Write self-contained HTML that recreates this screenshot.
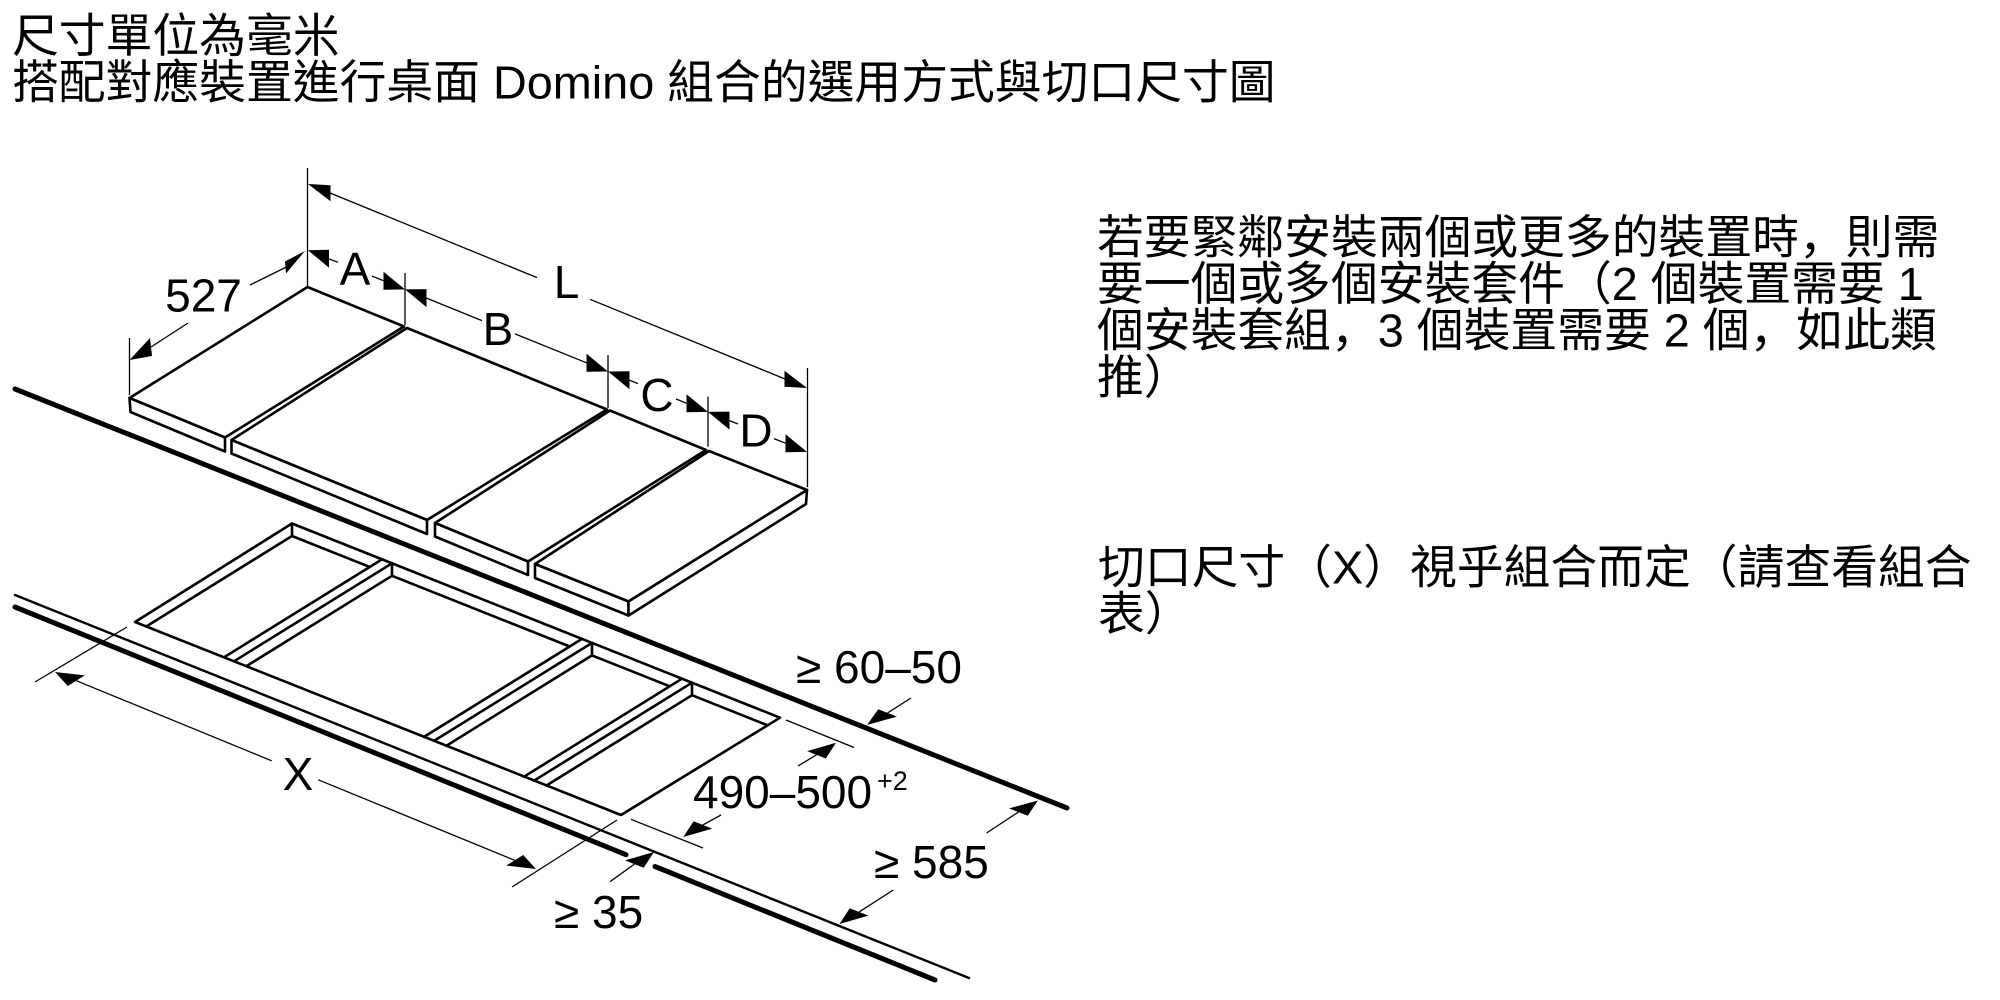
<!DOCTYPE html>
<html>
<head>
<meta charset="utf-8">
<style>
html,body{margin:0;padding:0;background:#fff;width:2000px;height:1000px;overflow:hidden}
svg{display:block}
.t{font-family:"Liberation Sans","Noto Sans CJK TC",sans-serif;font-size:46.8px;fill:#000}
.c{font-family:"Noto Sans CJK JP",sans-serif}
.d{font-family:"Liberation Sans",sans-serif;font-size:46px;fill:#000}
.s{font-family:"Liberation Sans",sans-serif;font-size:27px;fill:#000}
</style>
</head>
<body>
<svg width="2000" height="1000" viewBox="0 0 2000 1000" xmlns="http://www.w3.org/2000/svg">
<rect x="0" y="0" width="2000" height="1000" fill="#fff"/>

<!-- Title -->
<text class="t" x="12" y="52">尺寸單位為毫米</text>
<text class="t" x="12" y="98.5">搭配對應裝置進行桌面 Domino 組合的選用方式與切口尺寸圖</text>

<!-- Right paragraphs -->
<text class="t" x="1097" y="253.5">若要緊鄰安裝兩個或更多的裝置時<tspan class="c">，</tspan>則需</text>
<text class="t" x="1097" y="300">要一個或多個安裝套件（2 個裝置需要 1</text>
<text class="t" x="1097" y="346.7">個安裝套組<tspan class="c">，</tspan>3 個裝置需要 2 個<tspan class="c">，</tspan>如此類</text>
<text class="t" x="1097" y="393.4">推）</text>

<text class="t" x="1098" y="583.5">切口尺寸（X）視乎組合而定（請查看組合</text>
<text class="t" x="1098" y="630">表）</text>

<!-- Counter lines -->
<g stroke="#000" stroke-linecap="round" fill="none">
  <line x1="15" y1="389" x2="1067" y2="808" stroke-width="5"/>
  <line x1="15" y1="595" x2="969" y2="978" stroke-width="2.4"/>
  <line x1="15" y1="607" x2="626" y2="854.7" stroke-width="5"/>
  <line x1="655" y1="866.5" x2="935" y2="980" stroke-width="5"/>
</g>

<!-- Cooktops -->
<g stroke="#000" stroke-width="2.6" fill="#fff" stroke-linejoin="round">
  <polygon points="307.5,287 404,326.5 225,437.5 129.5,398"/>
  <polygon points="129.5,398 225,437.5 225,451.5 130.5,412"/>
  <polygon points="407,328 607,409.5 427,520 231.5,440"/>
  <polygon points="231.5,440 427,520 427,534 231.5,453.5"/>
  <polygon points="610,410.5 706,450 528,561.5 435,523"/>
  <polygon points="435,523 528,561.5 528,575 435,536.5"/>
  <polygon points="709,451 807,490 628.5,601.5 535,564"/>
  <polygon points="535,564 628.5,601.5 628.5,615.5 535,578"/>
  <polygon points="807,490 806,504 628.5,615.5 628.5,601.5"/>
</g>

<!-- Cutout frame -->
<g stroke="#000" stroke-width="2.6" fill="none" stroke-linejoin="round" stroke-linecap="round">
  <polygon points="292,523.5 780,717.7 621,815 135,622"/>
  <line x1="292" y1="523.5" x2="292" y2="536"/>
  <line x1="292" y1="536" x2="146.2" y2="626.5"/>
  <line x1="292" y1="536" x2="369.7" y2="566.9"/>
  <!-- bar 1 -->
  <line x1="382" y1="559.3" x2="224" y2="657.3"/>
  <line x1="392" y1="563.3" x2="234" y2="661.3"/>
  <line x1="392" y1="563.3" x2="392" y2="575.8"/>
  <line x1="392" y1="575.8" x2="246.3" y2="666.2"/>
  <line x1="392" y1="575.8" x2="569.7" y2="646.5"/>
  <!-- bar 2 -->
  <line x1="582" y1="638.9" x2="424" y2="736.9"/>
  <line x1="592" y1="642.9" x2="434" y2="740.9"/>
  <line x1="592" y1="642.9" x2="592" y2="655.4"/>
  <line x1="592" y1="655.4" x2="446.3" y2="745.8"/>
  <line x1="592" y1="655.4" x2="669.7" y2="686.3"/>
  <!-- bar 3 -->
  <line x1="682" y1="678.7" x2="524" y2="776.7"/>
  <line x1="692" y1="682.7" x2="534" y2="780.7"/>
  <line x1="692" y1="682.7" x2="692" y2="695.2"/>
  <line x1="692" y1="695.2" x2="546.3" y2="785.6"/>
  <line x1="692" y1="695.2" x2="767.6" y2="725.3"/>
</g>

<!-- Dimension lines (thin) -->
<g stroke="#000" stroke-width="1.3" fill="none">
  <line x1="307.5" y1="168" x2="307.5" y2="286"/>
  <line x1="807.5" y1="368" x2="807.5" y2="487"/>
  <line x1="129.5" y1="338" x2="129.5" y2="395"/>
  <line x1="405" y1="273" x2="405" y2="325"/>
  <line x1="608" y1="355" x2="608" y2="408"/>
  <line x1="708" y1="396.7" x2="708" y2="446.7"/>
  <line x1="330" y1="193" x2="537" y2="277.6"/>
  <line x1="590" y1="299.3" x2="785" y2="379"/>
  <line x1="329" y1="258.8" x2="338" y2="262.3"/>
  <line x1="372" y1="276.1" x2="383.5" y2="280.7"/>
  <line x1="426.5" y1="298.1" x2="482" y2="320.6"/>
  <line x1="515" y1="333.9" x2="586.5" y2="362.8"/>
  <line x1="629.5" y1="380.2" x2="638" y2="383.6"/>
  <line x1="676" y1="399" x2="686.5" y2="403.2"/>
  <line x1="729.5" y1="420.6" x2="738" y2="424"/>
  <line x1="774" y1="438.6" x2="785.5" y2="443.2"/>
  <line x1="285.5" y1="267.5" x2="250" y2="285"/>
  <line x1="188" y1="323" x2="151" y2="347"/>
  <line x1="127" y1="627" x2="35" y2="682"/>
  <line x1="617" y1="820" x2="512" y2="887"/>
  <line x1="76.3" y1="680.7" x2="271.7" y2="760.8"/>
  <line x1="318.3" y1="779.8" x2="514.7" y2="860.3"/>
  <line x1="786" y1="720" x2="854" y2="747.5"/>
  <line x1="631" y1="819.3" x2="703" y2="848"/>
  <line x1="816.5" y1="754.8" x2="798" y2="766"/>
  <line x1="702.9" y1="824.9" x2="721" y2="815"/>
  <line x1="887.6" y1="712.9" x2="911" y2="698"/>
  <line x1="1018.4" y1="812.1" x2="986.6" y2="833"/>
  <line x1="859.1" y1="911.9" x2="893.3" y2="890"/>
  <line x1="634.4" y1="864.1" x2="610" y2="881.7"/>
</g>

<!-- Arrowheads -->
<g fill="#000" stroke="none">
  <polygon points="308,184 330.5,185.2 330.5,201.2"/>
  <polygon points="807,388 784.5,370.8 784.5,386.8"/>
  <polygon points="308,250.2 329,249.8 329,267.8"/>
  <polygon points="405,289.4 383.5,271.7 383.5,289.7"/>
  <polygon points="405,289.4 426.5,289.1 426.5,307.1"/>
  <polygon points="608,371.5 586.5,353.8 586.5,371.8"/>
  <polygon points="608,371.5 629.5,371.2 629.5,389.2"/>
  <polygon points="708,411.9 686.5,394.2 686.5,412.2"/>
  <polygon points="708,411.9 729.5,411.6 729.5,429.6"/>
  <polygon points="807,451.9 785.5,434.2 785.5,452.2"/>
  <polygon points="305,251 285,261.5 286,273.5"/>
  <polygon points="129.5,360 150,338 152,356"/>
  <polygon points="55,672 84.8,675.4 67.8,686"/>
  <polygon points="536,869 523.2,855 506.2,865.6"/>
  <polygon points="836,742.7 825.8,758.5 807.2,751.1"/>
  <polygon points="683.3,837 712.2,828.6 693.6,821.2"/>
  <polygon points="867,725 896.9,716.6 878.3,709.2"/>
  <polygon points="1038,800.5 1027.7,815.8 1009.1,808.4"/>
  <polygon points="839.5,924 868.4,915.6 849.8,908.2"/>
  <polygon points="654,852 643.7,867.8 625.1,860.4"/>
</g>

<!-- Dimension labels -->
<text class="d" x="203.5" y="311.5" text-anchor="middle">527</text>
<text class="d" x="355" y="285" text-anchor="middle">A</text>
<text class="d" x="498" y="345" text-anchor="middle">B</text>
<text class="d" x="657" y="411" text-anchor="middle">C</text>
<text class="d" x="756" y="446.5" text-anchor="middle">D</text>
<text class="d" x="566.5" y="298" text-anchor="middle">L</text>
<text class="d" x="298" y="790" text-anchor="middle">X</text>
<text class="d" x="693" y="808">490–500</text>
<text class="s" x="877" y="790">+2</text>
<text class="d" x="796" y="683">≥ 60–50</text>
<text class="d" x="874" y="878">≥ 585</text>
<text class="d" x="554" y="928">≥ 35</text>
</svg>
</body>
</html>
